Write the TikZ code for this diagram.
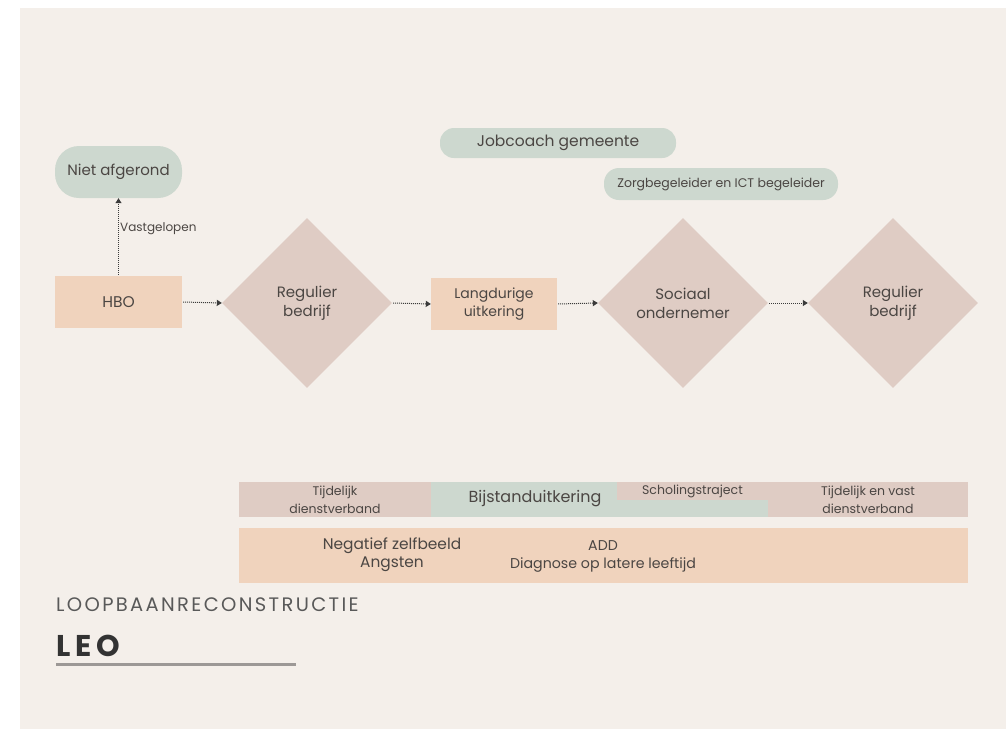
\documentclass[tikz,border=0pt]{standalone}
\usepackage{fontspec}
\setmainfont{Poppins}
\newfontfamily\spacedfont[LetterSpace=12]{Poppins}
\newfontfamily\widefont[LetterSpace=16]{Poppins}
\usetikzlibrary{shapes.geometric,arrows.meta}

\definecolor{paper}{HTML}{F4EFEA}
\definecolor{sage}{HTML}{CDD8CF}
\definecolor{peach}{HTML}{F0D3BD}
\definecolor{rose}{HTML}{DFCCC4}
\definecolor{ink}{HTML}{4B4643}
\definecolor{arrowc}{HTML}{3A3A3A}
\definecolor{titlegray}{HTML}{595959}
\definecolor{rulegray}{HTML}{9C9896}

\tikzset{
  box/.style={rectangle, inner sep=0pt, text=ink, align=center},
  pill/.style={box, fill=sage},
  dia/.style={diamond, aspect=1, inner sep=0pt, fill=rose, text=ink,
    align=center, minimum width=170pt, minimum height=170pt,
    font=\fontsize{15}{19}\selectfont},
  bar/.style={box, font=\fontsize{12.5}{18}\selectfont},
  flow/.style={draw=arrowc, densely dotted, line width=1pt,
    -{Triangle[length=5pt,width=6pt]}, shorten <=1pt},
  plain/.style={text=ink, inner sep=0pt, align=center}
}

\begin{document}
\begin{tikzpicture}[x=1pt,y=-1pt]
\useasboundingbox (0,0) rectangle (1006,729);
\fill[white] (0,0) rectangle (1006,729);
\fill[paper] (20,8) rectangle (1006,729);

% support roles along the top
\node[pill, minimum width=127pt, minimum height=52pt, rounded corners=24pt,
  font=\fontsize{15}{18}\selectfont] (niet) at (118.5,172) {Niet afgerond};
\node[pill, minimum width=236pt, minimum height=30pt, rounded corners=14pt,
  font=\fontsize{15.5}{18}\selectfont] (job) at (558,143) {Jobcoach gemeente};
\node[pill, minimum width=234pt, minimum height=32pt, rounded corners=15pt,
  font=\fontsize{12.5}{15}\selectfont] (zorg) at (721,184) {Zorgbegeleider en ICT begeleider};

% career path
\node[box, fill=peach, minimum width=127pt, minimum height=52pt,
  font=\fontsize{15.5}{18}\selectfont] (hbo) at (118.5,302) {HBO};
\node[dia] (d1) at (307,303) {Regulier\\bedrijf};
\node[box, fill=peach, minimum width=126pt, minimum height=52pt,
  font=\fontsize{14}{18}\selectfont] (lang) at (494,304) {Langdurige\\uitkering};
\node[dia] (d2) at (683,303) {Sociaal\\ondernemer};
\node[dia] (d3) at (893,303) {Regulier\\bedrijf};

\draw[flow] (hbo.north) -- (niet.south);
\node[plain, anchor=west, font=\fontsize{12}{14}\selectfont] (vast) at (120,229) {Vastgelopen};
\draw[flow] (hbo.east) -- (d1.west);
\draw[flow] (d1.east) -- (lang.west);
\draw[flow] (lang.east) -- (d2.west);
\draw[flow] (d2.east) -- (d3.west);

% employment / income timeline
\node[bar, fill=rose, minimum width=192pt, minimum height=35pt] (tijd) at (335,499.5) {Tijdelijk\\dienstverband};
\node[bar, fill=sage, minimum width=337pt, minimum height=35pt] (bijst) at (599.5,499.5) {};
\node[plain, font=\fontsize{16}{19}\selectfont] (bijsttxt) at (535,499) {Bijstanduitkering};
\node[bar, fill=rose, minimum width=151pt, minimum height=18pt] (schol) at (692.5,491) {Scholingstraject};
\node[bar, fill=rose, minimum width=200pt, minimum height=35pt] (tijdvast) at (868,499.5) {Tijdelijk en vast\\dienstverband};

% personal factors
\node[box, fill=peach, minimum width=729pt, minimum height=55pt] (factors) at (603.5,555.5) {};
\node[plain, font=\fontsize{15.4}{18}\selectfont] (neg) at (392,555) {Negatief zelfbeeld\\Angsten};
\node[plain, font=\fontsize{14.2}{18}\selectfont] (add) at (603,556) {ADD\\Diagnose op latere leeftijd};

% title block
\node[anchor=west, inner sep=0pt, text=titlegray, font=\spacedfont\fontsize{19.5}{22}\selectfont] (title) at (56,605) {LOOPBAANRECONSTRUCTIE};
\node[anchor=west, inner sep=0pt, text=black!80, font=\widefont\bfseries\fontsize{30}{33}\selectfont] (name) at (56,646) {LEO};
\draw[rulegray, line width=3pt] (56,664) -- (296,664);
\end{tikzpicture}
\end{document}
